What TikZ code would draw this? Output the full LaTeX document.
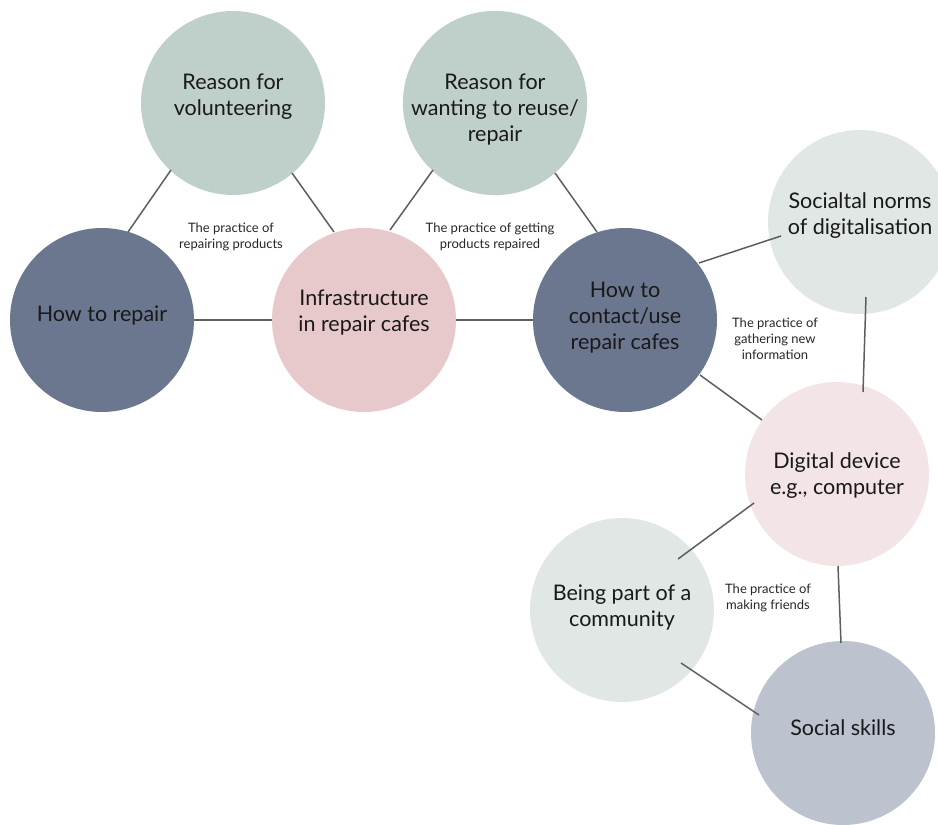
\documentclass[tikz,border=0pt]{standalone}
\usepackage{fontspec}
\setmainfont{Lato}
\definecolor{sage}{HTML}{BFD0CA}
\definecolor{slate}{HTML}{6B778F}
\definecolor{rose}{HTML}{E8C9CB}
\definecolor{mist}{HTML}{E0E7E5}
\definecolor{blush}{HTML}{F3E5E5}
\definecolor{steel}{HTML}{BCC3CE}
\definecolor{linegray}{HTML}{5E5E5E}
\newcommand{\bubtext}[2][0pt]{\raisebox{#1}[\height][\depth]{\begin{tabular}{@{}c@{}}#2\end{tabular}}}
\begin{document}
\begin{tikzpicture}[x=1pt,y=-1pt,
  bubble/.style={circle,minimum size=184pt,inner sep=0pt,draw=none,
    font=\fontsize{21.5}{26}\selectfont,text=black!90},
  practice/.style={align=center,inner sep=0pt,font=\fontsize{13}{16}\selectfont,text=black!85},
  link/.style={draw=linegray,line width=1.5pt}]
\useasboundingbox (0,0) rectangle (938,825);
\clip (0,0) rectangle (938,825);
\node[bubble,fill=sage] (vol) at (233,103) {\bubtext[6pt]{Reason for\\volunteering}};
\node[bubble,fill=sage] (reuse) at (495,103) {\bubtext[-7pt]{Reason for\\wanting to reuse/\\repair}};
\node[bubble,fill=slate] (repair) at (102,320) {\bubtext[4pt]{How to repair}};
\node[bubble,fill=rose] (infra) at (364,320) {\bubtext[7pt]{Infrastructure\\in repair cafes}};
\node[bubble,fill=slate] (contact) at (625,320) {\bubtext[2pt]{How to\\contact/use\\repair cafes}};
\node[bubble,fill=mist] (norms) at (860,222) {\bubtext[6pt]{Socialtal norms\\of digitalisation}};
\node[bubble,fill=blush] (digital) at (837,474) {\bubtext[-2pt]{Digital device\\e.g., computer}};
\node[bubble,fill=mist] (being) at (622,610) {\bubtext[2pt]{Being part of a\\community}};
\node[bubble,fill=steel] (skills) at (843,733) {\bubtext[3pt]{Social skills}};
\node[practice] (p1) at (231,237) {The practice of\\repairing products};
\node[practice] (p2) at (490,237) {The practice of getting\\products repaired};
\node[practice] (p3) at (775,339) {The practice of\\gathering new\\information};
\node[practice] (p4) at (768,598) {The practice of\\making friends};
\draw[link] ([shift={(26,-88)}]repair.center) -- ([shift={(-62,67)}]vol.center);
\draw[link] ([shift={(59,70)}]vol.center) -- ([shift={(-30,-88)}]infra.center);
\draw[link] ([shift={(92,0)}]repair.center) -- ([shift={(-92,0)}]infra.center);
\draw[link] ([shift={(26,-90)}]infra.center) -- ([shift={(-62,67)}]reuse.center);
\draw[link] ([shift={(60,70)}]reuse.center) -- ([shift={(-28,-88)}]contact.center);
\draw[link] ([shift={(92,0)}]infra.center) -- ([shift={(-92,0)}]contact.center);
\draw[link] ([shift={(74,-57)}]contact.center) -- ([shift={(-79,14)}]norms.center);
\draw[link] ([shift={(6,75)}]norms.center) -- ([shift={(26,-82)}]digital.center);
\draw[link] ([shift={(75,55)}]contact.center) -- ([shift={(-75,-54)}]digital.center);
\draw[link] ([shift={(-83,29)}]digital.center) -- ([shift={(56,-51)}]being.center);
\draw[link] ([shift={(1,92)}]digital.center) -- ([shift={(-2,-90)}]skills.center);
\draw[link] ([shift={(59,53)}]being.center) -- ([shift={(-84,-18)}]skills.center);
\end{tikzpicture}
\end{document}
